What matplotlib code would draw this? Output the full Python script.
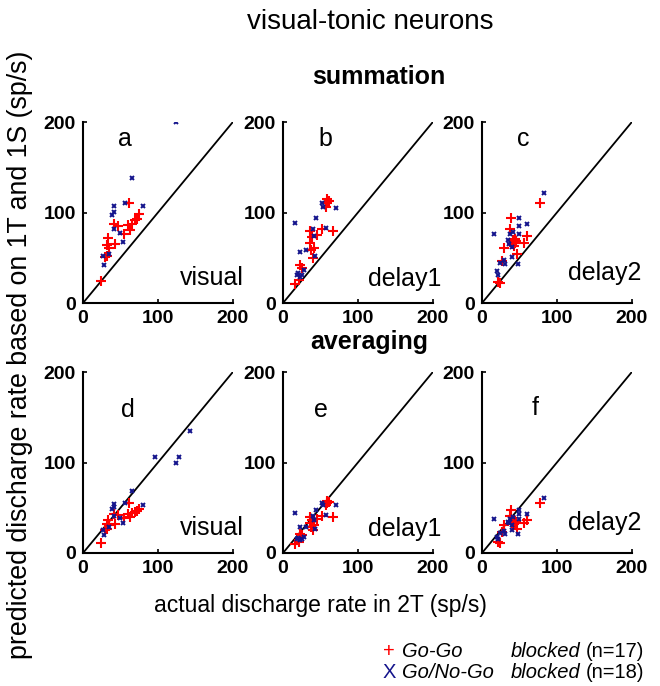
import matplotlib
matplotlib.use('Agg')
import matplotlib.pyplot as plt

plt.rcParams['font.family'] = ['Liberation Sans', 'DejaVu Sans']

RED = '#ff0000'
BLUE = '#14148c'

# actual rate in 2T (x) and predicted rates (summation / averaging) per epoch
x_red_vis = [23.9, 29.6, 31.9, 33.2, 31.9, 34.1, 42.9, 41.6, 47.3, 54.9, 60.6, 62.8, 65.0, 69.5, 72.6, 75.2, 61.9]
sum_red_vis = [24.3, 50.8, 51.6, 71.8, 63.7, 61.1, 64.8, 86.9, 84.7, 76.6, 85.8, 80.3, 87.7, 91.3, 93.2, 98.0, 110.5]
avg_red_vis = [11.4, 25.6, 26.0, 36.1, 31.8, 30.4, 32.5, 43.6, 42.3, 38.2, 42.9, 40.1, 43.8, 45.6, 46.7, 49.0, 55.2]
x_blue_vis = [123.9, 142.5, 96.0, 127.9, 65.0, 56.2, 80.5, 42.0, 40.7, 38.5, 42.0, 49.6, 54.0, 35.0, 26.5, 27.4]
sum_blue_vis = [200.0, 268.8, 211.4, 211.4, 137.7, 110.5, 107.2, 107.2, 100.6, 96.9, 82.1, 77.7, 67.4, 54.5, 51.9, 42.4]
avg_blue_vis = [99.8, 134.4, 105.7, 105.7, 68.1, 55.2, 52.7, 53.8, 50.3, 48.5, 41.0, 38.8, 33.1, 28.7, 25.0, 20.3]

x_red_d1 = [16.4, 20.8, 23.0, 25.2, 37.2, 41.6, 40.7, 36.3, 38.5, 36.3, 46.0, 51.8, 66.4, 59.3, 61.9, 57.5, 59.3]
sum_red_d1 = [20.6, 25.0, 41.6, 39.0, 58.2, 60.8, 49.7, 66.7, 72.9, 79.6, 74.8, 82.1, 79.6, 110.5, 112.7, 106.1, 115.3]
avg_red_d1 = [10.3, 12.5, 20.8, 19.5, 29.1, 30.4, 24.9, 33.4, 36.5, 39.8, 37.4, 41.1, 39.8, 55.3, 56.4, 53.1, 57.7]
x_blue_d1 = [16.4, 19.5, 18.6, 22.1, 25.2, 28.3, 31.0, 39.8, 41.6, 42.9, 44.2, 51.8, 53.1, 57.1, 70.4, 22.1]
sum_blue_d1 = [88.8, 33.5, 30.6, 56.4, 30.6, 36.1, 58.2, 82.1, 73.7, 51.9, 94.3, 110.5, 106.1, 83.2, 105.3, 28.7]
avg_blue_d1 = [44.4, 16.8, 15.3, 28.2, 15.3, 18.1, 29.1, 41.1, 36.9, 26.0, 47.2, 55.3, 53.1, 41.6, 52.7, 14.4]

x_red_d2 = [20.9, 24.4, 26.7, 28.9, 38.7, 37.8, 42.2, 44.4, 43.1, 41.3, 46.7, 55.6, 60.0, 77.8, 45.0, 40.5, 43.5]
sum_red_d2 = [23.2, 22.1, 46.4, 61.1, 94.3, 81.4, 67.4, 66.3, 63.0, 70.0, 53.8, 66.3, 73.7, 110.5, 68.5, 65.5, 70.5]
avg_red_d2 = [11.6, 11.1, 23.2, 30.6, 47.2, 40.7, 33.7, 33.2, 31.5, 35.0, 26.9, 33.2, 36.9, 55.3, 34.3, 32.8, 35.3]
x_blue_d2 = [15.6, 20.0, 20.9, 24.4, 29.8, 31.1, 34.2, 35.6, 37.8, 40.0, 41.3, 40.4, 49.8, 49.8, 49.8, 60.0, 47.6, 82.2]
sum_blue_d2 = [75.9, 35.4, 30.6, 44.2, 47.9, 42.7, 69.2, 65.6, 75.9, 50.8, 78.5, 61.9, 94.3, 85.1, 75.9, 86.9, 42.7, 121.5]
avg_blue_d2 = [38.0, 17.7, 15.3, 22.1, 24.0, 21.4, 34.6, 32.8, 38.0, 25.4, 39.3, 31.0, 47.2, 42.6, 38.0, 43.5, 21.4, 60.8]

panels = [
    ('a', 'visual', x_red_vis, sum_red_vis, x_blue_vis, sum_blue_vis),
    ('b', 'delay1', x_red_d1, sum_red_d1, x_blue_d1, sum_blue_d1),
    ('c', 'delay2', x_red_d2, sum_red_d2, x_blue_d2, sum_blue_d2),
    ('d', 'visual', x_red_vis, avg_red_vis, x_blue_vis, avg_blue_vis),
    ('e', 'delay1', x_red_d1, avg_red_d1, x_blue_d1, avg_blue_d1),
    ('f', 'delay2', x_red_d2, avg_red_d2, x_blue_d2, avg_blue_d2),
]
letter_pos = [(56, 181), (56, 181), (55, 181), (60, 158), (51, 158), (71, 160)]
cond_pos = {'visual': (129, 28), 'delay1': (113, 26), 'delay2': (115, 33)}

fig = plt.figure(figsize=(6.6, 6.86), dpi=100)
lefts = [0.1258, 0.4288, 0.7303]
bottoms = [0.5583, 0.1939]
w, h = 0.227, 0.2638

for i, (letter, cond, xr, yr, xb, yb) in enumerate(panels):
    ax = fig.add_axes([lefts[i % 3], bottoms[i // 3], w, h])
    ax.plot([0, 200], [0, 200], color='black', lw=1.3)
    ax.plot(xr, yr, '+', color=RED, ms=7, mew=1.5)
    ax.plot(xb, yb, 'x', color=BLUE, ms=3.5, mew=1.4)
    ax.set_xlim(0, 200)
    ax.set_ylim(0, 200)
    ax.set_xticks([0, 100, 200])
    ax.set_yticks([0, 100, 200])
    for s in ('top', 'right'):
        ax.spines[s].set_visible(False)
    for s in ('left', 'bottom'):
        ax.spines[s].set_linewidth(1.5)
    ax.tick_params(direction='in', length=3, width=1.2, pad=5,
                   labelsize=14)
    for lab in ax.get_xticklabels() + ax.get_yticklabels():
        lab.set_fontweight('bold')
    lx, ly = letter_pos[i]
    ax.text(lx, ly, letter, fontsize=18, ha='center', va='center')
    cx, cy = cond_pos[cond]
    ax.text(cx, cy, cond, fontsize=18, ha='left', va='center', clip_on=False)

fig.text(0.5606, 0.968, 'visual-tonic neurons', fontsize=20, ha='center', va='center')
fig.text(0.574, 0.888, 'summation', fontsize=18, fontweight='bold', ha='center', va='center')
fig.text(0.559, 0.501, 'averaging', fontsize=18, fontweight='bold', ha='center', va='center')
fig.text(0.485, 0.118, 'actual discharge rate in 2T (sp/s)', fontsize=16.5,
         ha='center', va='center')
fig.text(0.030, 0.483, 'predicted discharge rate based on 1T and 1S (sp/s)',
         fontsize=19.3, rotation=90, ha='center', va='center')

# legend, built from text pieces
rows = [(0.051, '+', RED, 'Go-Go', '(n=17)'), (0.019, 'X', BLUE, 'Go/No-Go', '(n=18)')]
for y, sym, col, name, n in rows:
    fig.text(0.589, y, sym, color=col, fontsize=14.5, ha='center', va='center')
    fig.text(0.609, y, name, fontsize=14.5, style='italic', ha='left', va='center')
    fig.text(0.774, y, 'blocked', fontsize=14.5, style='italic', ha='left', va='center')
    fig.text(0.888, y, n, fontsize=14.5, ha='left', va='center')

fig.savefig('out.png', dpi=100)
